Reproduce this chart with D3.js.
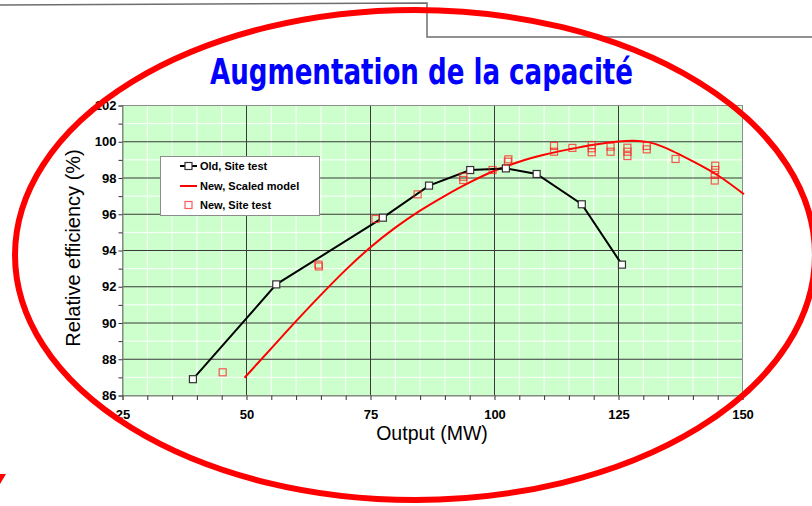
<!DOCTYPE html>
<html>
<head>
<meta charset="utf-8">
<script src="https://cdn.jsdelivr.net/npm/d3@7"></script>
<style>
  body { margin: 0; background: #fff; }
  svg { display: block; }
</style>
</head>
<body>
<div id="chart"></div>
<script>
// values
const oldSiteOutput = [39.2, 56.0, 77.5, 86.8, 95.1, 102.3, 108.5, 117.6, 125.7];
const oldSiteEff    = [86.9, 92.13, 95.81, 97.58, 98.44, 98.53, 98.22, 96.55, 93.22];

const newModelOutput = [49.6, 55, 60, 65, 70, 75, 80, 85, 90, 95, 100, 105, 110, 115, 120, 125, 128, 131, 134, 140, 145, 150.3];
const newModelEff    = [86.98, 88.6, 90.1, 91.55, 92.93, 94.18, 95.26, 96.2, 97.02, 97.76, 98.4, 98.9, 99.28, 99.58, 99.84, 100.02, 100.06, 99.98, 99.72, 98.92, 98.15, 97.1];

const newSiteOutput = [45.2, 64.5, 64.6, 76.0, 84.5, 93.7, 93.7, 99.6, 102.8, 102.7, 112.0, 112.0, 115.7,
                       119.6, 119.6, 119.6, 123.4, 123.4, 126.8, 126.8, 126.8, 130.7, 130.7, 136.5,
                       144.5, 144.5, 144.4, 144.4];
const newSiteEff    = [87.28, 93.22, 93.12, 95.74, 97.1, 98.07, 97.89, 98.44, 99.03, 98.9, 99.77, 99.45, 99.66,
                       99.82, 99.64, 99.42, 99.73, 99.45, 99.67, 99.45, 99.21, 99.77, 99.58, 99.05,
                       98.68, 98.44, 98.17, 97.86];

const xTicks = d3.range(25, 151, 5);
const yTicks = d3.range(86, 103, 1);
const legendLabels = ['Old, Site test', 'New, Scaled model', 'New, Site test'];

const W = 812, H = 506;
const svg = d3.select('#chart').append('svg').attr('width', W).attr('height', H);

// frame lines at the top of the slide
svg.append('path')
  .attr('d', 'M0,5 L427,3 L427,37 L812,37')
  .attr('fill', 'none').attr('stroke', '#6e6e6e').attr('stroke-width', 1.5);

const x = d3.scaleLinear().domain([25, 150]).range([122.5, 742.5]);
const y = d3.scaleLinear().domain([86, 102]).range([395.5, 105.5]);

// plot background
svg.append('rect')
  .attr('x', x(25)).attr('y', y(102))
  .attr('width', x(150) - x(25)).attr('height', y(86) - y(102))
  .attr('fill', '#ccffcc');

// minor grid (white)
const grid = svg.append('g');
grid.selectAll('.vmin').data(xTicks.filter(d => d % 25 !== 0)).enter().append('line')
  .attr('x1', d => x(d)).attr('x2', d => x(d)).attr('y1', y(102)).attr('y2', y(86))
  .attr('stroke', '#fff').attr('stroke-width', 1);
grid.selectAll('.hmin').data(yTicks.filter(d => d % 2 !== 0)).enter().append('line')
  .attr('x1', x(25)).attr('x2', x(150)).attr('y1', d => y(d)).attr('y2', d => y(d))
  .attr('stroke', '#fff').attr('stroke-width', 1);
// major grid (dark)
grid.selectAll('.vmaj').data([50, 75, 100, 125]).enter().append('line')
  .attr('x1', d => x(d)).attr('x2', d => x(d)).attr('y1', y(102)).attr('y2', y(86))
  .attr('stroke', '#3a3a3a').attr('stroke-width', 1);
grid.selectAll('.hmaj').data(d3.range(88, 101, 2)).enter().append('line')
  .attr('x1', x(25)).attr('x2', x(150)).attr('y1', d => y(d)).attr('y2', d => y(d))
  .attr('stroke', '#3a3a3a').attr('stroke-width', 1);

// plot border
svg.append('rect')
  .attr('x', x(25)).attr('y', y(102))
  .attr('width', x(150) - x(25)).attr('height', y(86) - y(102))
  .attr('fill', 'none').attr('stroke', '#8c8c8c').attr('stroke-width', 1);

// axes
const yAxis = svg.append('g')
  .attr('transform', `translate(${x(25)},0)`)
  .call(d3.axisLeft(y).tickValues(yTicks).tickSize(4).tickPadding(2)
    .tickFormat(d => d % 2 === 0 ? d : ''));
const xAxis = svg.append('g')
  .attr('transform', `translate(0,${y(86)})`)
  .call(d3.axisBottom(x).tickValues(xTicks).tickSize(4.5).tickPadding(10)
    .tickFormat(d => d % 25 === 0 ? d : ''));
[xAxis, yAxis].forEach(a => {
  a.select('.domain').attr('stroke', '#7a8a7a');
  a.selectAll('.tick line').attr('stroke', '#333');
  a.selectAll('text')
    .attr('font-family', 'Liberation Sans, Arial, sans-serif')
    .attr('font-size', 13).attr('font-weight', 'bold').attr('fill', '#000');
});

// axis titles
svg.append('text')
  .attr('transform', 'translate(80,248) rotate(-90)')
  .attr('text-anchor', 'middle')
  .attr('font-family', 'Liberation Sans, Arial, sans-serif').attr('font-size', 20)
  .text('Relative efficiency (%)');
svg.append('text')
  .attr('x', 432).attr('y', 440)
  .attr('text-anchor', 'middle')
  .attr('font-family', 'Liberation Sans, Arial, sans-serif').attr('font-size', 19.5)
  .text('Output (MW)');

// series
const oldData = oldSiteOutput.map((v, i) => [v, oldSiteEff[i]]);
const modelData = newModelOutput.map((v, i) => [v, newModelEff[i]]);
const siteData = newSiteOutput.map((v, i) => [v, newSiteEff[i]]);

svg.append('path')
  .datum(modelData)
  .attr('fill', 'none').attr('stroke', '#ff0000').attr('stroke-width', 2)
  .attr('d', d3.line().x(d => x(d[0])).y(d => y(d[1])).curve(d3.curveCatmullRom.alpha(0.5)));

svg.append('path')
  .datum(oldData)
  .attr('fill', 'none').attr('stroke', '#000').attr('stroke-width', 2)
  .attr('d', d3.line().x(d => x(d[0])).y(d => y(d[1])));

const sq = 7;
svg.selectAll('.oldpt').data(oldData).enter().append('rect')
  .attr('x', d => x(d[0]) - sq / 2).attr('y', d => y(d[1]) - sq / 2)
  .attr('width', sq).attr('height', sq)
  .attr('fill', '#fff').attr('stroke', '#333').attr('stroke-width', 1.2);

svg.selectAll('.sitept').data(siteData).enter().append('rect')
  .attr('x', d => x(d[0]) - sq / 2).attr('y', d => y(d[1]) - sq / 2)
  .attr('width', sq).attr('height', sq)
  .attr('fill', 'none').attr('stroke', '#ff2020').attr('stroke-opacity', 0.75).attr('stroke-width', 1.2);

// legend
const lg = svg.append('g');
lg.append('rect').attr('x', 160.5).attr('y', 156.5).attr('width', 159).attr('height', 59)
  .attr('fill', '#fff').attr('stroke', '#8c8c8c');
const ly = [166, 186, 205];
lg.append('line').attr('x1', 180).attr('x2', 197).attr('y1', ly[0]).attr('y2', ly[0])
  .attr('stroke', '#000').attr('stroke-width', 2);
lg.append('rect').attr('x', 188.5 - 3.5).attr('y', ly[0] - 3.5).attr('width', 7).attr('height', 7)
  .attr('fill', '#fff').attr('stroke', '#333').attr('stroke-width', 1.2);
lg.append('line').attr('x1', 180).attr('x2', 197).attr('y1', ly[1]).attr('y2', ly[1])
  .attr('stroke', '#ff0000').attr('stroke-width', 2);
lg.append('rect').attr('x', 188.5 - 3.5).attr('y', ly[2] - 3.5).attr('width', 7).attr('height', 7)
  .attr('fill', 'none').attr('stroke', '#ff2020').attr('stroke-opacity', 0.75).attr('stroke-width', 1.2);
lg.selectAll('.lt').data(legendLabels).enter().append('text')
  .attr('x', 200).attr('y', (d, i) => ly[i] + 4)
  .attr('font-family', 'Liberation Sans, Arial, sans-serif')
  .attr('font-size', 11).attr('font-weight', 'bold')
  .text(d => d);

// title
svg.append('text')
  .attr('x', 421.5).attr('y', 84)
  .attr('text-anchor', 'middle')
  .attr('font-family', 'DejaVu Sans Condensed, DejaVu Sans, sans-serif')
  .attr('font-weight', 'bold').attr('font-size', 35)
  .attr('fill', '#0000ff')
  .attr('textLength', 423).attr('lengthAdjust', 'spacingAndGlyphs')
  .text('Augmentation de la capacité');

// red highlight ellipse drawn over everything
svg.append('ellipse')
  .attr('cx', 415).attr('cy', 255).attr('rx', 400).attr('ry', 245)
  .attr('fill', 'none').attr('stroke', '#ff0000').attr('stroke-width', 6);

// small red mark at lower left edge
svg.append('path')
  .attr('d', 'M0,474 L6,474 L0,484 Z')
  .attr('fill', '#ff0000');
</script>
</body>
</html>
